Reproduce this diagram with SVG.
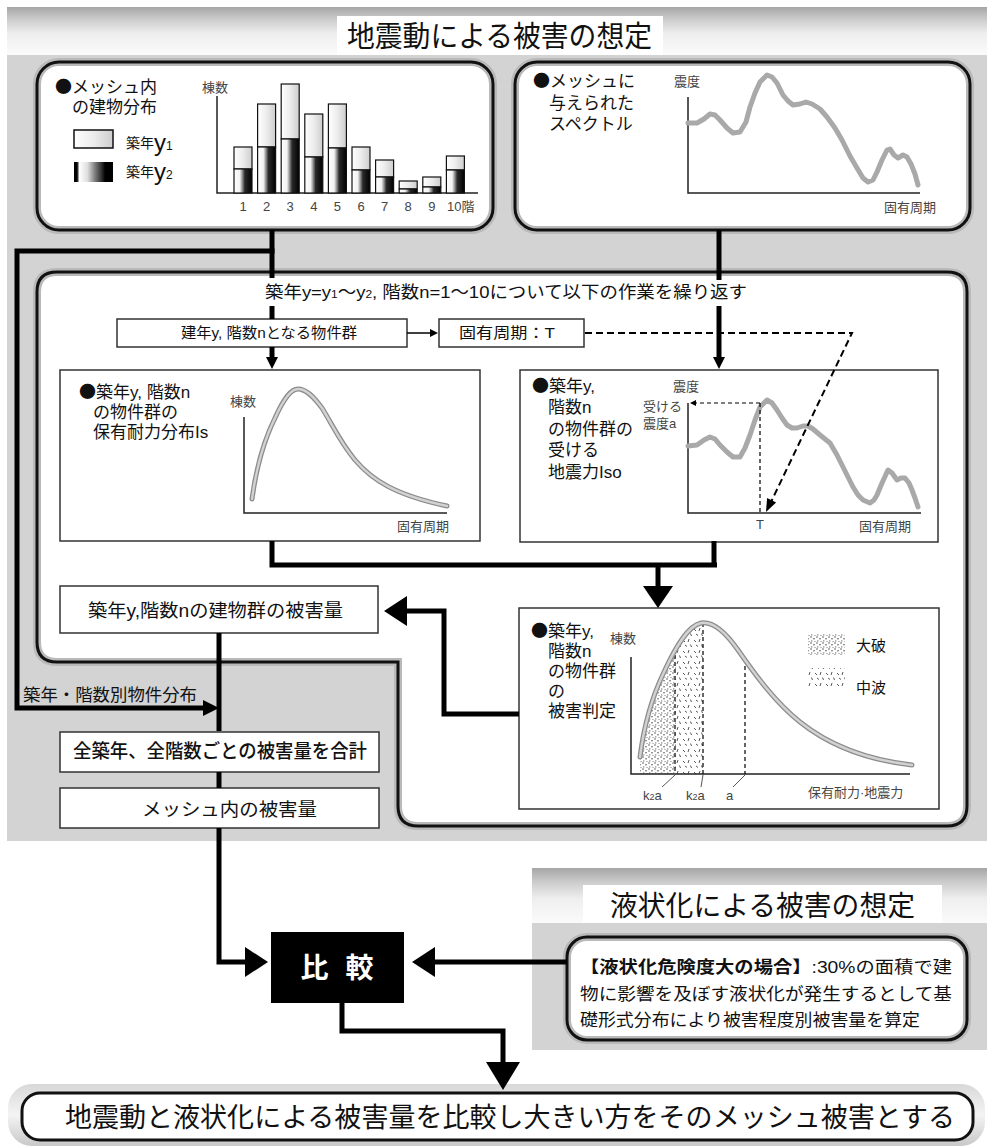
<svg xmlns="http://www.w3.org/2000/svg" width="987" height="1146" viewBox="0 0 987 1146">
<style>
.t{font-family:"Liberation Sans","Noto Sans CJK JP",sans-serif;fill:#111}
.ax{font-family:"Liberation Sans","Noto Sans CJK JP",sans-serif;fill:#444;font-size:13px}
.b{font-family:"Noto Sans CJK JP",sans-serif}
.conn{stroke:#000;stroke-width:5;fill:none;stroke-linejoin:miter}
.thin{stroke:#000;stroke-width:1.5;fill:none}
.dash{stroke:#000;stroke-width:2;fill:none;stroke-dasharray:7 4}
.dashs{stroke:#000;stroke-width:1.2;fill:none;stroke-dasharray:4 3}
.ah{fill:#000}
.box{fill:#fff;stroke:#333;stroke-width:1.5}
.axis{stroke:#222;stroke-width:1.5;fill:none}
.spec{stroke:#a9a9a9;stroke-width:5;fill:none;stroke-linejoin:round;stroke-linecap:round}
.dO{stroke:#8c8c8c;stroke-width:5;fill:none;stroke-linecap:round}
.dI{stroke:#d2d2d2;stroke-width:2.4;fill:none;stroke-linecap:round}
.halo{fill:#fff;stroke:#b9b9b9;stroke-width:8}
.pan{fill:none;stroke:#111;stroke-width:3}
.bar{stroke:#111;stroke-width:1.2}
</style>
<defs>
<linearGradient id="band" x1="0" y1="0" x2="0" y2="1">
<stop offset="0" stop-color="#a6a6a6"/><stop offset="0.25" stop-color="#cbcbcb"/><stop offset="0.55" stop-color="#eeeeee"/><stop offset="1" stop-color="#fbfbfb"/>
</linearGradient>
<linearGradient id="gL" x1="0" y1="0" x2="1" y2="0">
<stop offset="0" stop-color="#ffffff"/><stop offset="0.5" stop-color="#ececec"/><stop offset="1" stop-color="#cdcdcd"/>
</linearGradient>
<linearGradient id="gD" x1="0" y1="0" x2="1" y2="0">
<stop offset="0" stop-color="#ffffff"/><stop offset="0.32" stop-color="#f2f2f2"/><stop offset="0.45" stop-color="#9a9a9a"/><stop offset="0.6" stop-color="#2a2a2a"/><stop offset="1" stop-color="#000"/>
</linearGradient>
<linearGradient id="gD2" x1="0" y1="0" x2="1" y2="0">
<stop offset="0" stop-color="#000"/><stop offset="0.08" stop-color="#000"/><stop offset="0.14" stop-color="#fff"/><stop offset="0.35" stop-color="#ddd"/><stop offset="0.55" stop-color="#777"/><stop offset="0.7" stop-color="#333"/><stop offset="0.8" stop-color="#000"/><stop offset="1" stop-color="#000"/>
</linearGradient>
<linearGradient id="gRes" x1="0" y1="0" x2="0" y2="1">
<stop offset="0" stop-color="#d8d8d8"/><stop offset="0.5" stop-color="#f4f4f4"/><stop offset="1" stop-color="#c8c8c8"/>
</linearGradient>
<pattern id="pDot" width="6" height="6" patternUnits="userSpaceOnUse">
<rect width="6" height="6" fill="#fff"/>
<circle cx="1" cy="1" r="0.7" fill="#333"/><circle cx="4" cy="2.8" r="0.7" fill="#333"/><circle cx="1.8" cy="4.9" r="0.6" fill="#555"/><circle cx="5" cy="5.4" r="0.5" fill="#555"/>
</pattern>
<pattern id="pDash" width="11" height="11" patternUnits="userSpaceOnUse">
<rect width="11" height="11" fill="#fff"/>
<path d="M1,2 l2,2 M7,1 l-1,3 M3,7 l2,1.5 M8.5,6.5 l1,2.5" stroke="#444" stroke-width="0.9"/>
</pattern>
<clipPath id="clipJ">
<path d="M640,757 C644,725 652,697 664,672 C676,646 688,626 701,623 C712,621 724,630 738,650 C756,676 776,703 800,722 C830,746 868,760 912,765 L912,774 L640,774 Z"/>
</clipPath>
</defs>

<rect x="0" y="0" width="987" height="1146" fill="#fff"/>

<g id="header-main">
<rect x="7" y="7" width="980" height="48" fill="url(#band)"/>
<rect x="7" y="55" width="980" height="786" fill="#d3d3d3"/>
<rect x="337" y="16" width="326" height="39" fill="#fff"/>
<text class="t" x="347" y="47" font-size="29" textLength="305" lengthAdjust="spacingAndGlyphs">地震動による被害の想定</text>
</g>

<g id="panel-mesh-dist">
<rect class="halo" x="37" y="62" width="456" height="168" rx="22"/>
<rect class="pan" x="37" y="62" width="456" height="168" rx="22"/>
<text class="t" x="55" y="93" font-size="17"><tspan class="b">●</tspan>メッシュ内</text>
<text class="t" x="72" y="113" font-size="17">の建物分布</text>
<rect x="74" y="130" width="39" height="18" fill="url(#gL)" stroke="#111" stroke-width="1.5"/>
<rect x="74" y="162" width="39" height="20" fill="url(#gD2)"/>
<text class="t" x="126" y="148" font-size="14" fill="#333">築年<tspan font-size="24" dy="3">y</tspan><tspan font-size="12" dy="-1">1</tspan></text>
<text class="t" x="126" y="177" font-size="14" fill="#333">築年<tspan font-size="24" dy="3">y</tspan><tspan font-size="12" dy="-1">2</tspan></text>
<text class="ax" x="202" y="92">棟数</text>
<path class="axis" d="M217,96 V193 H478"/>
<g>
<rect class="bar" x="234" y="147" width="18" height="22" fill="url(#gL)"/><rect class="bar" x="234" y="169" width="18" height="24" fill="url(#gD)"/>
<rect class="bar" x="257.6" y="104" width="18" height="43" fill="url(#gL)"/><rect class="bar" x="257.6" y="147" width="18" height="46" fill="url(#gD)"/>
<rect class="bar" x="281.2" y="84" width="18" height="55" fill="url(#gL)"/><rect class="bar" x="281.2" y="139" width="18" height="54" fill="url(#gD)"/>
<rect class="bar" x="304.8" y="114" width="18" height="43" fill="url(#gL)"/><rect class="bar" x="304.8" y="157" width="18" height="36" fill="url(#gD)"/>
<rect class="bar" x="328.4" y="104" width="18" height="44" fill="url(#gL)"/><rect class="bar" x="328.4" y="148" width="18" height="45" fill="url(#gD)"/>
<rect class="bar" x="352" y="147" width="18" height="23" fill="url(#gL)"/><rect class="bar" x="352" y="170" width="18" height="23" fill="url(#gD)"/>
<rect class="bar" x="375.6" y="160" width="18" height="17" fill="url(#gL)"/><rect class="bar" x="375.6" y="177" width="18" height="16" fill="url(#gD)"/>
<rect class="bar" x="399.2" y="181" width="18" height="8" fill="url(#gL)"/><rect class="bar" x="399.2" y="189" width="18" height="4" fill="url(#gD)"/>
<rect class="bar" x="422.8" y="177" width="18" height="10" fill="url(#gL)"/><rect class="bar" x="422.8" y="187" width="18" height="6" fill="url(#gD)"/>
<rect class="bar" x="446.4" y="156" width="18" height="14" fill="url(#gL)"/><rect class="bar" x="446.4" y="170" width="18" height="23" fill="url(#gD)"/>
</g>
<g class="ax" font-size="13" text-anchor="middle">
<text x="243" y="211">1</text><text x="266.6" y="211">2</text><text x="290.2" y="211">3</text><text x="313.8" y="211">4</text><text x="337.4" y="211">5</text><text x="361" y="211">6</text><text x="384.6" y="211">7</text><text x="408.2" y="211">8</text><text x="431.8" y="211">9</text>
</g>
<text class="ax" x="447" y="211">10階</text>
</g>

<g id="panel-spectrum">
<rect class="halo" x="515" y="62" width="455" height="168" rx="22"/>
<rect class="pan" x="515" y="62" width="455" height="168" rx="22"/>
<text class="t" x="533" y="87" font-size="17"><tspan class="b">●</tspan>メッシュに</text>
<text class="t" x="549" y="109" font-size="17">与えられた</text>
<text class="t" x="549" y="130" font-size="17">スペクトル</text>
<text class="ax" x="674" y="86">震度</text>
<path class="axis" d="M688,97 V193 H920"/>
<polyline class="spec" points="688,123 697,123 704,119 710,114 715,115 720,120 727,128 733,133 740,132 746,122 750,107 755,93 760,82 767,75 772,77 777,83 783,95 788,101 793,105 800,104 806,102 812,104 820,109 827,117 835,128 842,140 850,156 857,168 863,178 868,182 873,180 877,172 882,160 887,150 890,149 894,155 898,158 903,155 907,157 911,164 915,174 918,185"/>
<text class="ax" x="884" y="212">固有周期</text>
</g>

<g id="panel-loop">
<path class="halo" d="M57,272 H947 Q967,272 967,292 V806 Q967,826 947,826 H418 Q398,826 398,806 V662 H57 Q37,662 37,642 V292 Q37,272 57,272 Z"/>
<path class="pan" d="M57,272 H947 Q967,272 967,292 V806 Q967,826 947,826 H418 Q398,826 398,806 V662 H57 Q37,662 37,642 V292 Q37,272 57,272 Z"/>
<text class="t" x="265" y="298" font-size="17" textLength="482" lengthAdjust="spacingAndGlyphs">築年y=y<tspan font-size="11">1</tspan>〜y<tspan font-size="11">2</tspan>, 階数n=1〜10について以下の作業を繰り返す</text>
</g>

<g id="header-liq">
<rect x="532" y="868" width="455" height="55" fill="url(#band)"/>
<rect x="532" y="923" width="455" height="127" fill="#d3d3d3"/>
<rect x="583" y="885" width="359" height="38" fill="#fff"/>
<text class="t" x="610" y="916" font-size="28" textLength="305" lengthAdjust="spacingAndGlyphs">液状化による被害の想定</text>
</g>

<g id="box-group">
<rect class="box" x="117" y="319" width="290" height="28"/>
<text class="t" x="181" y="338" font-size="15" textLength="176" lengthAdjust="spacingAndGlyphs">建年y, 階数nとなる物件群</text>
</g>
<g id="box-period">
<rect class="box" x="439" y="319" width="145" height="28"/>
<text class="t" x="459" y="338" font-size="15" textLength="96" lengthAdjust="spacingAndGlyphs">固有周期：T</text>
</g>

<g id="box-capacity">
<rect class="box" x="60" y="370" width="420" height="171"/>
<text class="t" x="79" y="398" font-size="17"><tspan class="b">●</tspan>築年y, 階数n</text>
<text class="t" x="93" y="418" font-size="17">の物件群の</text>
<text class="t" x="93" y="438" font-size="17">保有耐力分布Is</text>
<text class="ax" x="230" y="406">棟数</text>
<path class="axis" d="M244,417 V513 H447"/>
<path class="dO" d="M252,499 C256,470 264,440 275,418 C284,398 291,389 298,389 C306,389 313,396 322,408 C332,424 340,442 355,460 C372,480 395,495 447,506"/>
<path class="dI" d="M252,499 C256,470 264,440 275,418 C284,398 291,389 298,389 C306,389 313,396 322,408 C332,424 340,442 355,460 C372,480 395,495 447,506"/>
<text class="ax" x="397" y="531">固有周期</text>
</g>

<g id="box-seismic">
<rect class="box" x="520" y="370" width="418" height="172"/>
<text class="t" x="532" y="392" font-size="17"><tspan class="b">●</tspan>築年y,</text>
<text class="t" x="548" y="413" font-size="17">階数n</text>
<text class="t" x="548" y="435" font-size="17">の物件群の</text>
<text class="t" x="548" y="456" font-size="17">受ける</text>
<text class="t" x="548" y="478" font-size="17">地震力Iso</text>
<text class="ax" x="673" y="391">震度</text>
<text class="ax" x="643" y="411">受ける</text>
<text class="ax" x="643" y="428">震度a</text>
<path class="axis" d="M688,403 V513 H921"/>
<polyline class="spec" points="688,446 697,445 704,440 710,437 715,439 720,445 727,452 733,457 740,457 745,448 750,435 755,420 760,407 767,400 772,403 777,410 782,418 787,425 792,428 797,428 803,426 808,426 813,429 820,435 830,443 837,455 843,467 848,477 853,487 858,495 863,500 870,503 874,500 877,495 882,483 888,470 892,473 897,480 901,478 905,478 909,483 912,490 915,498 918,507"/>
<path class="dashs" d="M760,403 H694"/>
<polygon class="ah" points="690,403 696,400 696,406"/>
<path class="dashs" d="M760,403 V512"/>
<text class="ax" x="760" y="529" text-anchor="middle">T</text>
<text class="ax" x="859" y="531">固有周期</text>
</g>

<g id="box-judgement">
<rect class="box" x="519" y="608" width="420" height="201"/>
<text class="t" x="531" y="637" font-size="17"><tspan class="b">●</tspan>築年y,</text>
<text class="t" x="548" y="657" font-size="17">階数n</text>
<text class="t" x="548" y="677" font-size="17">の物件群</text>
<text class="t" x="548" y="697" font-size="17">の</text>
<text class="t" x="548" y="717" font-size="17">被害判定</text>
<text class="ax" x="610" y="643">棟数</text>
<g clip-path="url(#clipJ)">
<rect x="636" y="600" width="39" height="175" fill="url(#pDot)"/>
<rect x="675" y="600" width="28" height="175" fill="url(#pDash)"/>
</g>
<path class="axis" d="M631,657 V774 H910"/>
<path class="dashs" d="M675,648 V774 M703,623 V774 M745,659 V774"/>
<path class="dO" d="M640,757 C644,725 652,697 664,672 C676,646 688,626 701,623 C712,621 724,630 738,650 C756,676 776,703 800,722 C830,746 868,760 912,765"/>
<path class="dI" d="M640,757 C644,725 652,697 664,672 C676,646 688,626 701,623 C712,621 724,630 738,650 C756,676 776,703 800,722 C830,746 868,760 912,765"/>
<path stroke="#444" stroke-width="0.9" fill="none" d="M662,787 L675,775 M701,787 L703,775 M733,787 L745,775"/>
<text class="ax" x="643" y="800">k<tspan font-size="9">2</tspan>a</text>
<text class="ax" x="686" y="800">k<tspan font-size="9">2</tspan>a</text>
<text class="ax" x="726" y="800">a</text>
<text class="ax" x="808" y="797">保有耐力·地震力</text>
<rect x="808" y="634" width="37" height="21" fill="url(#pDot)"/>
<text class="t" x="856" y="651" font-size="15" fill="#333">大破</text>
<rect x="808" y="668" width="37" height="20" fill="url(#pDash)"/>
<text class="t" x="856" y="693" font-size="15" fill="#333">中波</text>
</g>

<g id="box-damage-yn">
<rect class="box" x="60" y="586" width="318" height="47"/>
<text class="t" x="88" y="617" font-size="18" textLength="255" lengthAdjust="spacingAndGlyphs">築年y,階数nの建物群の被害量</text>
</g>

<g id="label-dist">
<text class="t" x="23" y="701" font-size="17" textLength="174" lengthAdjust="spacingAndGlyphs">築年・階数別物件分布</text>
</g>

<g id="box-total">
<rect class="box" x="60" y="732" width="319" height="40"/>
<text class="t" x="73" y="758" font-size="19" font-weight="500" textLength="294" lengthAdjust="spacingAndGlyphs">全築年、全階数ごとの被害量を合計</text>
</g>

<g id="box-mesh-damage">
<rect class="box" x="60" y="788" width="319" height="40"/>
<text class="t" x="142" y="816" font-size="18" textLength="175" lengthAdjust="spacingAndGlyphs">メッシュ内の被害量</text>
</g>

<g id="box-liq">
<rect class="halo" x="567" y="937" width="400" height="103" rx="20"/>
<rect class="pan" x="567" y="937" width="400" height="103" rx="20"/>
<text class="t" x="580" y="973" font-size="16.5" textLength="372" lengthAdjust="spacingAndGlyphs"><tspan font-weight="700">【液状化危険度大の場合】</tspan>:30%の面積で建</text>
<text class="t" x="580" y="1000" font-size="16.5" textLength="372" lengthAdjust="spacingAndGlyphs">物に影響を及ぼす液状化が発生するとして基</text>
<text class="t" x="580" y="1026" font-size="16.5" textLength="340" lengthAdjust="spacingAndGlyphs">礎形式分布により被害程度別被害量を算定</text>
</g>

<g id="box-compare">
<rect x="271" y="932" width="133" height="71" fill="#000"/>
<text class="t" x="337" y="978" font-size="28" font-weight="700" style="fill:#fff" text-anchor="middle" textLength="73" lengthAdjust="spacing">比 較</text>
</g>

<g id="box-result">
<rect x="8" y="1084" width="977" height="62" rx="24" fill="url(#gRes)"/>
<rect x="22" y="1093" width="951" height="47" rx="18" fill="#fff" stroke="#111" stroke-width="3"/>
<text class="t" x="65" y="1127" font-size="27" textLength="890" lengthAdjust="spacingAndGlyphs">地震動と液状化による被害量を比較し大きい方をそのメッシュ被害とする</text>
</g>

<g id="connectors">
<path class="conn" d="M272,230 V278"/>
<path class="conn" d="M272,306 V319"/>
<path class="conn" d="M272,347 V359"/>
<polygon class="ah" points="266,357 278,357 272,369"/>
<path class="conn" d="M274.5,251 H17 V708 H205"/>
<polygon class="ah" points="203,700 203,716 219,708"/>
<path class="conn" d="M719,230 V280"/>
<path class="conn" d="M719,306 V359"/>
<polygon class="ah" points="713,357 725,357 719,369"/>
<path class="thin" d="M407,333 H431"/>
<polygon class="ah" points="430,329 438,333 430,337"/>
<path class="dash" d="M585,333 H852 L771,502"/>
<polygon class="ah" points="766,512 776.1,502.5 767.1,498.1"/>
<path class="conn" d="M272,541 V565 H717"/>
<path class="conn" d="M714,541 V565"/>
<path class="conn" d="M658,565 V588"/>
<polygon class="ah" points="643,586 673,586 658,608"/>
<path class="conn" d="M519,714 H444 V611 H405"/>
<polygon class="ah" points="407,596 407,626 384,611"/>
<path class="conn" d="M219,633 V731"/>
<path class="conn" d="M219,772 V788"/>
<path class="conn" d="M219,828 V962 H247"/>
<polygon class="ah" points="245,947 245,977 268,962"/>
<path class="conn" d="M567,962 H433"/>
<polygon class="ah" points="435,947 435,977 412,962"/>
<path class="conn" d="M342,1003 V1031 H503 V1064"/>
<polygon class="ah" points="486,1062 520,1062 503,1090"/>
</g>
</svg>
